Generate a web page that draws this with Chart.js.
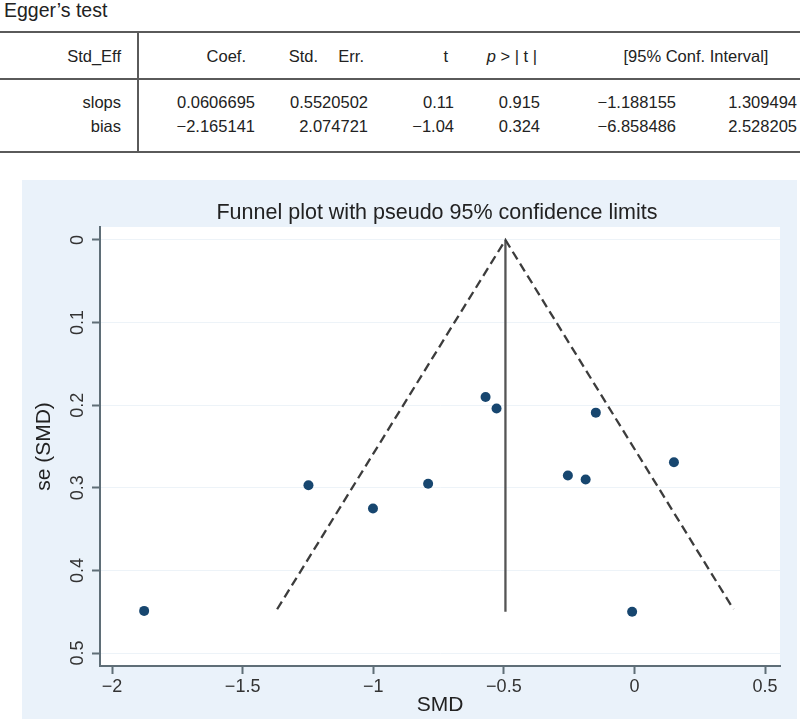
<!DOCTYPE html>
<html>
<head>
<meta charset="utf-8">
<script src="https://cdn.jsdelivr.net/npm/chart.js@4.4.0/dist/chart.umd.min.js"></script>
<style>
body { margin: 0; width: 800px; height: 719px; position: relative; overflow: hidden; background: #fff;
       font-family: "Liberation Sans", Arial, sans-serif; color: #222; }
.t { position: absolute; white-space: nowrap; font-size: 16.5px; line-height: 20px; }
.hr { position: absolute; left: 0; width: 800px; height: 2px; background: #5a5a5a; }
#panel { position: absolute; left: 22px; top: 180px; width: 775px; height: 539px; background: #eaf2fa; }
#funnelTitle { position: absolute; left: 97px; width: 680px; top: 199px; text-align: center; font-size: 21.5px; line-height: 26px; color: #222; }
</style>
</head>
<body>
<div class="t" style="left:4px; top:-2px; font-size:19.5px; line-height:24px;">Egger’s test</div>
<div class="hr" style="top:31px;"></div>
<div class="hr" style="top:78px;"></div>
<div class="hr" style="top:151px;"></div>
<div style="position:absolute; left:137px; top:31px; width:2px; height:122px; background:#5a5a5a;"></div>
<div id="table"></div>

<div id="panel"><canvas id="funnel" width="775" height="539"></canvas></div>
<div id="funnelTitle">Funnel plot with pseudo 95% confidence limits</div>

<script>
// study points
const smd = [-0.570, -0.528, -0.148, -0.790, -0.255, -0.187, 0.151, -0.009, -1.248, -1.001, -1.877];
const seSmd = [0.190, 0.204, 0.209, 0.295, 0.285, 0.290, 0.269, 0.450, 0.297, 0.325, 0.449];

// pseudo 95% limits and pooled estimate line
const funnelX = [-1.368, -0.494, 0.379];
const funnelY = [0.447, 0, 0.447];
const pooledX = [-0.494, -0.494];
const pooledY = [0, 0.450];

const xTicks = [-2, -1.5, -1, -0.5, 0, 0.5];
const xTickLabels = ['\u22122', '\u22121.5', '\u22121', '\u22120.5', '0', '0.5'];
const yTicks = [0, 0.1, 0.2, 0.3, 0.4, 0.5];
const yTickLabels = ['0', '0.1', '0.2', '0.3', '0.4', '0.5'];

// Egger's test table
const rowNames = ['slops', 'bias'];
const coef = ['0.0606695', '\u22122.165141'];
const stdErr = ['0.5520502', '2.074721'];
const tStat = ['0.11', '\u22121.04'];
const pValue = ['0.915', '0.324'];
const ciLow = ['\u22121.188155', '\u22126.858486'];
const ciHigh = ['1.309494', '2.528205'];

const table = document.getElementById('table');

function put(html, right, cy, center) {
    const d = document.createElement('div');
    d.className = 't';
    d.innerHTML = html;
    d.style.top = (cy - 10) + 'px';
    table.appendChild(d);
    if (center) {
        d.style.left = (right - d.offsetWidth / 2) + 'px';
    } else {
        d.style.right = (800 - right) + 'px';
    }
}

put('Std_Eff', 121, 56);
put('Coef.', 246, 56);
put('Std.', 318, 56);
put('Err.', 364, 56);
put('t', 448, 56);
put('<i>p</i> &gt; | t |', 537, 56);
put('[95% Conf. Interval]', 696, 56, true);

const rowY = [102, 126];
rowNames.forEach((name, i) => {
    put(name, 121, rowY[i]);
    put(coef[i], 255, rowY[i]);
    put(stdErr[i], 368, rowY[i]);
    put(tStat[i], 454, rowY[i]);
    put(pValue[i], 540, rowY[i]);
    put(ciLow[i], 676, rowY[i]);
    put(ciHigh[i], 797, rowY[i]);
});

const axisColor = '#5f6e77';
const fontFamily = '"Liberation Sans", Arial, sans-serif';

const plotBackground = {
    id: 'plotBackground',
    beforeDraw(chart) {
        const { ctx, chartArea } = chart;
        ctx.save();
        ctx.fillStyle = '#ffffff';
        ctx.fillRect(chartArea.left, chartArea.top, chartArea.right - chartArea.left, chartArea.bottom - chartArea.top);
        ctx.restore();
    }
};

new Chart(document.getElementById('funnel'), {
    type: 'scatter',
    data: {
        datasets: [
            {
                data: smd.map((x, i) => ({ x: x, y: seSmd[i] })),
                backgroundColor: '#17466f',
                borderWidth: 0,
                pointRadius: 5,
                order: 0
            },
            {
                data: funnelX.map((x, i) => ({ x: x, y: funnelY[i] })),
                showLine: true,
                borderColor: '#3c3c3c',
                borderWidth: 2.3,
                borderDash: [9, 5],
                pointRadius: 0,
                order: 1
            },
            {
                data: pooledX.map((x, i) => ({ x: x, y: pooledY[i] })),
                showLine: true,
                borderColor: '#555555',
                borderWidth: 2.3,
                pointRadius: 0,
                order: 2
            }
        ]
    },
    options: {
        responsive: false,
        animation: false,
        events: [],
        layout: { padding: { left: 0, right: 17, top: 47, bottom: 0 } },
        plugins: {
            legend: { display: false },
            tooltip: { enabled: false }
        },
        scales: {
            x: {
                type: 'linear',
                min: -2.046,
                max: 0.557,
                afterBuildTicks: (s) => { s.ticks = xTicks.map(v => ({ value: v })); },
                afterFit: (s) => { s.height = 53; },
                border: { color: axisColor, width: 2 },
                grid: { drawOnChartArea: false, drawTicks: true, tickLength: 8, tickColor: axisColor, tickWidth: 2 },
                ticks: {
                    padding: 2,
                    color: '#333',
                    font: { family: fontFamily, size: 18 },
                    maxRotation: 0,
                    callback: (v, i) => xTickLabels[i]
                },
                title: {
                    display: true,
                    text: 'SMD',
                    color: '#222',
                    font: { family: fontFamily, size: 21 },
                    padding: { top: 0, bottom: 1 }
                }
            },
            y: {
                type: 'linear',
                reverse: true,
                min: -0.0157,
                max: 0.5157,
                afterBuildTicks: (s) => { s.ticks = yTicks.map(v => ({ value: v })); },
                afterFit: (s) => { s.width = 78; },
                border: { color: axisColor, width: 2 },
                grid: { color: '#edf3f8', lineWidth: 1, drawTicks: true, tickLength: 8, tickColor: axisColor, tickWidth: 2 },
                ticks: {
                    padding: 1,
                    color: '#333',
                    font: { family: fontFamily, size: 18 },
                    minRotation: 90,
                    maxRotation: 90,
                    crossAlign: 'center',
                    callback: (v, i) => yTickLabels[i]
                },
                title: {
                    display: true,
                    text: 'se (SMD)',
                    color: '#222',
                    font: { family: fontFamily, size: 21 },
                    padding: { top: 10, bottom: 0 }
                }
            }
        }
    },
    plugins: [plotBackground]
});
</script>
</body>
</html>
